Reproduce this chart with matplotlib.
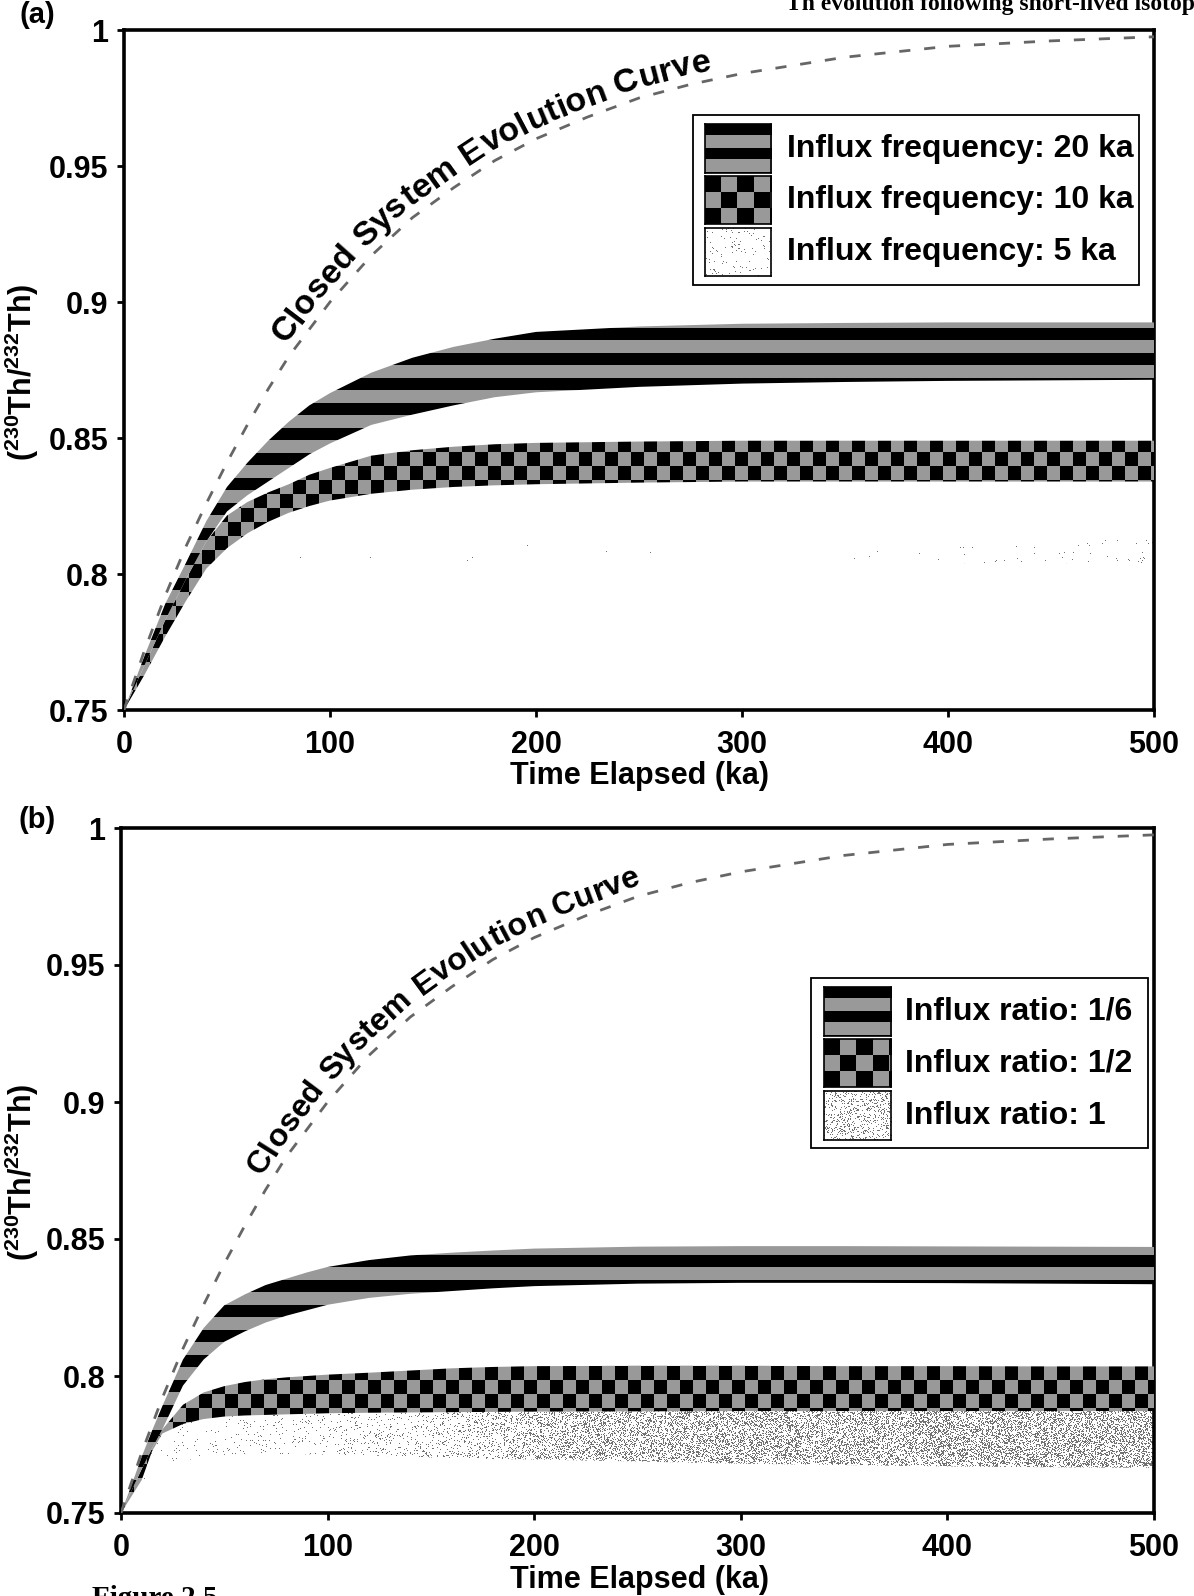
import numpy as np
import matplotlib
matplotlib.use("Agg")
import matplotlib.pyplot as plt
from matplotlib.patches import Polygon, Rectangle
from matplotlib.font_manager import FontProperties, findfont, get_font

plt.rcParams['font.family'] = ['Liberation Sans', 'DejaVu Sans']
plt.rcParams['font.weight'] = 'bold'
plt.rcParams['mathtext.fontset'] = 'custom'
plt.rcParams['mathtext.bf'] = 'Liberation Sans:bold'
plt.rcParams['mathtext.rm'] = 'Liberation Sans:bold'

# ---------------- data ----------------
closed_t = [0, 5, 10, 15, 20, 25, 30, 40, 50, 60, 70, 80, 90, 100, 120, 140, 160, 180,
            200, 225, 250, 275, 300, 350, 400, 450, 500]
closed_r = [0.750, 0.761, 0.772, 0.782, 0.792, 0.801, 0.810, 0.826, 0.841, 0.855, 0.868,
            0.880, 0.890, 0.900, 0.917, 0.931, 0.942, 0.952, 0.960, 0.968, 0.975, 0.980,
            0.984, 0.990, 0.994, 0.996, 0.9975]

# panel (a): influx frequency
ta = [0, 10, 20, 30, 40, 50, 60, 70, 80, 90, 100, 120, 140, 160, 180, 200, 250, 300, 350, 400, 450, 500]
a20_hi = [0.750, 0.770, 0.789, 0.804, 0.8195, 0.832, 0.841, 0.849, 0.856, 0.862, 0.8665, 0.874,
          0.8795, 0.8835, 0.8865, 0.889, 0.891, 0.892, 0.8923, 0.8925, 0.8925, 0.8925]
a20_lo = [0.750, 0.7665, 0.783, 0.798, 0.812, 0.823, 0.829, 0.834, 0.839, 0.844, 0.848, 0.8548,
          0.8586, 0.862, 0.865, 0.8668, 0.8688, 0.870, 0.8706, 0.871, 0.8712, 0.8714]
a10_hi = [0.750, 0.7665, 0.783, 0.798, 0.812, 0.8215, 0.8265, 0.830, 0.833, 0.8365, 0.839, 0.8435,
          0.8455, 0.8468, 0.8477, 0.8482, 0.8487, 0.849, 0.849, 0.849, 0.849, 0.849]
a10_lo = [0.750, 0.763, 0.777, 0.790, 0.802, 0.8095, 0.815, 0.8192, 0.8225, 0.825, 0.827, 0.8295,
          0.831, 0.832, 0.8326, 0.833, 0.8336, 0.834, 0.834, 0.834, 0.834, 0.834]
a5_hi = [0.750, 0.762, 0.773, 0.782, 0.790, 0.796, 0.800, 0.803, 0.8055, 0.8075, 0.809, 0.8105,
         0.8115, 0.812, 0.8123, 0.8125, 0.8125, 0.8125, 0.8125, 0.8125, 0.8125, 0.8125]
a5_lo = [0.750, 0.759, 0.767, 0.774, 0.780, 0.785, 0.789, 0.792, 0.794, 0.7955, 0.797, 0.799,
         0.800, 0.801, 0.8015, 0.802, 0.803, 0.8035, 0.804, 0.804, 0.804, 0.804]

# panel (b): influx ratio
tb = [0, 5, 10, 15, 20, 30, 40, 50, 60, 70, 80, 90, 100, 120, 140, 160, 180, 200, 250, 300, 350, 400, 450, 500]
b6_hi = [0.750, 0.760, 0.7705, 0.780, 0.789, 0.806, 0.8175, 0.8258, 0.8298, 0.8332, 0.8355, 0.8378,
         0.8398, 0.8423, 0.844, 0.845, 0.8458, 0.8465, 0.8472, 0.8474, 0.8474, 0.8473, 0.8472, 0.8471]
b6_lo = [0.750, 0.758, 0.766, 0.7735, 0.7805, 0.7965, 0.806, 0.8125, 0.8163, 0.8195, 0.822, 0.824,
         0.826, 0.8285, 0.830, 0.831, 0.832, 0.8328, 0.8337, 0.834, 0.834, 0.8339, 0.8337, 0.8335]
b2_hi = [0.750, 0.758, 0.766, 0.7735, 0.7805, 0.7895, 0.794, 0.7963, 0.7978, 0.7988, 0.7995, 0.800,
         0.8005, 0.8012, 0.802, 0.8028, 0.8033, 0.8036, 0.8037, 0.8037, 0.8036, 0.8036, 0.8035, 0.8035]
b2_lo = [0.750, 0.756, 0.762, 0.7725, 0.779, 0.7825, 0.7843, 0.7852, 0.7856, 0.7858, 0.786, 0.7862,
         0.7864, 0.7866, 0.7867, 0.7868, 0.7869, 0.787, 0.7871, 0.7872, 0.7872, 0.7872, 0.7872, 0.7872]
b1_lo = [0.750, 0.754, 0.758, 0.762, 0.766, 0.769, 0.7705, 0.7712, 0.7715, 0.7715, 0.7715, 0.7714,
         0.7713, 0.771, 0.7705, 0.770, 0.7697, 0.7695, 0.7688, 0.768, 0.7675, 0.767, 0.7667, 0.7665]

x_ticks = [0, 100, 200, 300, 400, 500]
x_tick_labels = ['0', '100', '200', '300', '400', '500']
y_ticks = [0.75, 0.8, 0.85, 0.9, 0.95, 1.0]
y_tick_labels = ['0.75', '0.8', '0.85', '0.9', '0.95', '1']
legend_a = ['Influx frequency: 20 ka', 'Influx frequency: 10 ka', 'Influx frequency: 5 ka']
legend_b = ['Influx ratio: 1/6', 'Influx ratio: 1/2', 'Influx ratio: 1']
curve_label = 'Closed System Evolution Curve'
x_label = 'Time Elapsed (ka)'
y_label = r'$\mathbf{(^{230}Th/^{232}Th)}$'

# ---------------- figure ----------------
W, H, DPI = 1194, 1596, 100
fig = plt.figure(figsize=(W / DPI, H / DPI), dpi=DPI)
fig.patch.set_facecolor('white')

BOX_A = (124, 30, 1154, 710)
BOX_B = (121, 828, 1154, 1513)

def frac_rect(l, t, r, b):
    return [l / W, 1 - b / H, (r - l) / W, (b - t) / H]

BLACK = np.array([0.0, 0.0, 0.0, 1.0])
GRAY = np.array([0.60, 0.60, 0.60, 1.0])
DOT = np.array([0.45, 0.45, 0.45, 1.0])
CLEAR = np.array([1.0, 1.0, 1.0, 0.0])

def pixgrid(l, t, r, b):
    gx, gy = np.meshgrid(np.arange(l, r), np.arange(t, b))
    return gx, gy

def tex_stripes(gx, gy, phase, period=25, nblack=12):
    blk = ((gy - phase) % period) < nblack
    return np.where(blk[..., None], BLACK, GRAY)

def tex_checker(gx, gy, x0, y0, cw=13, ch=14):
    blk = (((gy - y0) // ch + (gx - x0) // cw) % 2) == 0
    return np.where(blk[..., None], BLACK, GRAY)

def hash01(gx, gy):
    h = (gx.astype(np.uint64) * np.uint64(73856093)) ^ (gy.astype(np.uint64) * np.uint64(19349663))
    h = (h ^ (h >> np.uint64(13))) * np.uint64(1274126177)
    h = h ^ (h >> np.uint64(16))
    return (h & np.uint64(0xFFFFFF)).astype(float) / float(0xFFFFFF)

def tex_speckle(gx, gy, density):
    on = hash01(gx, gy) < density
    return np.where(on[..., None], DOT, CLEAR)

def make_axes(box):
    ax = fig.add_axes(frac_rect(*box))
    ax.set_xlim(0, 500)
    ax.set_ylim(0.75, 1.0)
    ax.set_xticks(x_ticks)
    ax.set_xticklabels(x_tick_labels)
    ax.set_yticks(y_ticks)
    ax.set_yticklabels(y_tick_labels)
    ax.tick_params(direction='out', length=5, width=2, labelsize=22)
    ax.tick_params(axis='x', pad=9.5)
    ax.tick_params(axis='y', pad=6.5)
    for sp in ax.spines.values():
        sp.set_linewidth(2.6)
    return ax

def draw_band(ax, t, lo, hi, img, z):
    t = np.asarray(t, float)
    verts = np.column_stack([np.r_[t, t[::-1]], np.r_[np.asarray(hi), np.asarray(lo)[::-1]]])
    poly = Polygon(verts, closed=True, facecolor='none', edgecolor='none', transform=ax.transData)
    ax.add_patch(poly)
    im = ax.imshow(img, extent=(0, 500, 0.75, 1.0), origin='upper', aspect='auto',
                   interpolation='nearest', zorder=z)
    im.set_clip_path(poly)
    ax.set_xlim(0, 500)
    ax.set_ylim(0.75, 1.0)

def curved_text(ax, s, t0, t1, size, offset):
    tt = np.linspace(0, 500, 5000)
    rr = np.interp(tt, closed_t, closed_r)
    P = ax.transData.transform(np.column_stack([tt, rr]))
    seg = np.hypot(np.diff(P[:, 0]), np.diff(P[:, 1]))
    arc = np.r_[0, np.cumsum(seg)]
    ang = np.arctan2(np.gradient(P[:, 1]), np.gradient(P[:, 0]))
    fp = FontProperties(family='Liberation Sans', weight='bold', size=size)
    font = get_font(findfont(fp))
    font.set_size(size, DPI)
    advs = []
    for ch in s:
        g = font.load_char(ord(ch))
        advs.append(g.linearHoriAdvance / 65536.0)
    L = sum(advs)
    mid = 0.5 * (np.interp(t0, tt, arc) + np.interp(t1, tt, arc))
    pos = mid - L / 2
    inv = ax.transData.inverted()
    for ch, a in zip(s, advs):
        c = pos + a / 2
        x = np.interp(c, arc, P[:, 0])
        y = np.interp(c, arc, P[:, 1])
        th = np.interp(c, arc, ang)
        xo = x - offset * np.sin(th)
        yo = y + offset * np.cos(th)
        xd, yd = inv.transform((xo, yo))
        ax.text(xd, yd, ch, rotation=np.degrees(th), rotation_mode='anchor', ha='center',
                va='baseline', fontproperties=fp, zorder=6)
        pos += a

def legend(box, rows, sw_x, text_x, labels, imgs):
    l, t, r, b = box
    fig.add_artist(Rectangle((l / W, 1 - b / H), (r - l) / W, (b - t) / H, transform=fig.transFigure,
                             facecolor='white', edgecolor='black', lw=1.3, zorder=2))
    for (rt, rb), lab, img in zip(rows, labels, imgs):
        sax = fig.add_axes(frac_rect(sw_x[0], rt, sw_x[1], rb), zorder=3)
        sax.imshow(img, aspect='auto', interpolation='nearest')
        sax.set_xticks([])
        sax.set_yticks([])
        for sp in sax.spines.values():
            sp.set_linewidth(1.2)
        fig.text(text_x / W, 1 - (rt + rb) / 2 / H, lab, ha='left', va='center', fontsize=23,
                 fontweight='bold', zorder=4)

# ---------------- panel (a) ----------------
ax_a = make_axes(BOX_A)
gx, gy = pixgrid(*BOX_A)
dens_a5 = 0.0004 + 0.02 * ((gx - BOX_A[0]) / (BOX_A[2] - BOX_A[0])) ** 10
draw_band(ax_a, ta, a5_lo, a5_hi, tex_speckle(gx, gy, dens_a5), 2)
draw_band(ax_a, ta, a10_lo, a10_hi, tex_checker(gx, gy, BOX_A[0], 438), 3)
draw_band(ax_a, ta, a20_lo, a20_hi, tex_stripes(gx, gy, 328), 4)
ax_a.plot(closed_t, closed_r, color='#666666', lw=2.0, dashes=(4, 5), zorder=5)
curved_text(ax_a, curve_label, 79, 292, 24.5, 10)

# ---------------- panel (b) ----------------
ax_b = make_axes(BOX_B)
gx, gy = pixgrid(*BOX_B)
tfrac = (gx - BOX_B[0]) / (BOX_B[2] - BOX_B[0]) * 500
dens_b1 = np.interp(tfrac, [0, 50, 150, 220, 500], [0.0, 0.03, 0.08, 0.30, 0.36])
draw_band(ax_b, tb, b1_lo, b2_lo, tex_speckle(gx, gy, dens_b1), 2)
draw_band(ax_b, tb, b2_lo, b2_hi, tex_checker(gx, gy, BOX_B[0], 1366), 3)
draw_band(ax_b, tb, b6_lo, b6_hi, tex_stripes(gx, gy, 1255), 4)
ax_b.plot(closed_t, closed_r, color='#666666', lw=2.0, dashes=(4, 5), zorder=5)
curved_text(ax_b, curve_label, 67, 264, 23, 10)

# ---------------- legends ----------------
def sw_imgs(sx, rows, stripe_phase, dens):
    (r1t, r1b), (r2t, r2b), (r3t, r3b) = rows
    g1 = pixgrid(sx[0], r1t, sx[1], r1b)
    g2 = pixgrid(sx[0], r2t, sx[1], r2b)
    g3 = pixgrid(sx[0], r3t, sx[1], r3b)
    i1 = tex_stripes(g1[0], g1[1], stripe_phase, period=24, nblack=11)
    i2 = tex_checker(g2[0], g2[1], sx[0], r2t, cw=16, ch=16)
    sp = tex_speckle(g3[0], g3[1], dens)
    i3 = np.where(sp[..., 3:4] > 0, sp, np.array([1.0, 1.0, 1.0, 1.0]))
    return [i1, i2, i3]

rows_a = [(124, 173), (176, 224), (228, 276)]
legend((693, 115, 1139, 285), rows_a, (705, 771), 787, legend_a,
       sw_imgs((705, 771), rows_a, 124, 0.03))
rows_b = [(987, 1036), (1039, 1087), (1091, 1140)]
legend((811, 978, 1148, 1148), rows_b, (824, 891), 905, legend_b,
       sw_imgs((824, 891), rows_b, 987, 0.18))

# ---------------- labels ----------------
for yc, xl_y, tag, tag_y in [(372, 776, '(a)', 15), (1172, 1580, '(b)', 820)]:
    fig.text(22 / W, 1 - yc / H, y_label, rotation=90, ha='center', va='center', fontsize=22)
    fig.text(640 / W, 1 - xl_y / H, x_label, ha='center', va='center', fontsize=22, fontweight='bold')
    fig.text(37 / W, 1 - tag_y / H, tag, ha='center', va='center', fontsize=21, fontweight='bold')

# cropped page text from the scan (partly outside the page, as in the scan)
fig.text(1215 / W, 1 - 10 / H, 'Th evolution following short-lived isotopes', ha='right',
         va='baseline', fontsize=17, fontweight='bold', family='Liberation Serif')
fig.text(92 / W, 1 - 1606 / H, 'Figure 2.5', ha='left', va='baseline',
         fontsize=21, fontweight='bold', family='Liberation Serif')

fig.savefig('out.png', dpi=DPI, facecolor='white')
